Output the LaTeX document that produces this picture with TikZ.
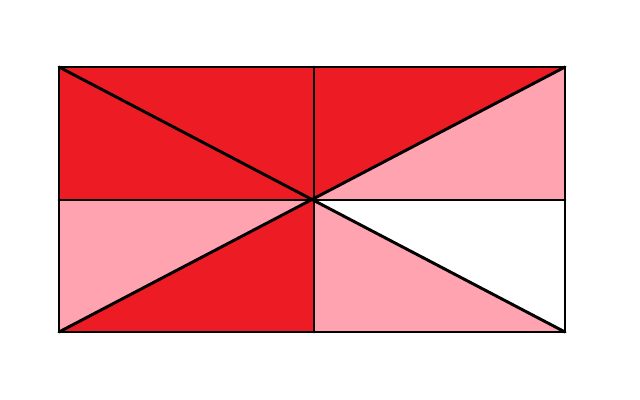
\documentclass[tikz,border=0pt]{standalone}
\usepackage{xcolor}
\usepackage{tikz}
\definecolor{flagred}{HTML}{ED1C24}
\definecolor{flagpink}{HTML}{FFA3B1}
\tikzset{
  darkpart/.style={fill=flagred},
  lightpart/.style={fill=flagpink},
  edge/.style={draw=black, line width=2.1pt, line cap=round, line join=round}
}

\begin{document}
\begin{tikzpicture}[x=0.025cm, y=-0.025cm]
  \useasboundingbox (0,0) rectangle (640,400);
  \fill[white] (0,0) rectangle (640,400);

  % -- corners, midpoints and centre --------------------------------------
  \coordinate (tl) at (59,67);
  \coordinate (tr) at (565,67);
  \coordinate (br) at (565,332);
  \coordinate (bl) at (59,332);
  \coordinate (c)  at (314,200);
  \coordinate (tm) at (314,67);
  \coordinate (bm) at (314,332);
  \coordinate (lm) at (59,200);
  \coordinate (rm) at (565,200);

  % -- coloured triangles ---------------------------------------------------
  \fill[darkpart]  (tl) -- (tm) -- (c) -- (lm) -- cycle;
  \fill[darkpart]  (tm) -- (tr) -- (c) -- cycle;
  \fill[lightpart] (tr) -- (rm) -- (c) -- cycle;
  \fill[lightpart] (lm) -- (c) -- (bl) -- cycle;
  \fill[darkpart]  (c) -- (bm) -- (bl) -- cycle;
  \fill[lightpart] (c) -- (bm) -- (br) -- cycle;

  % -- outline and dividing lines -------------------------------------------
  \draw[edge] (tl) rectangle (br);
  \draw[edge] (tm) -- (bm);
  \draw[edge] (lm) -- (rm);
  \draw[edge] (tl) -- (br);
  \draw[edge] (tr) -- (bl);

\end{tikzpicture}
\end{document}
